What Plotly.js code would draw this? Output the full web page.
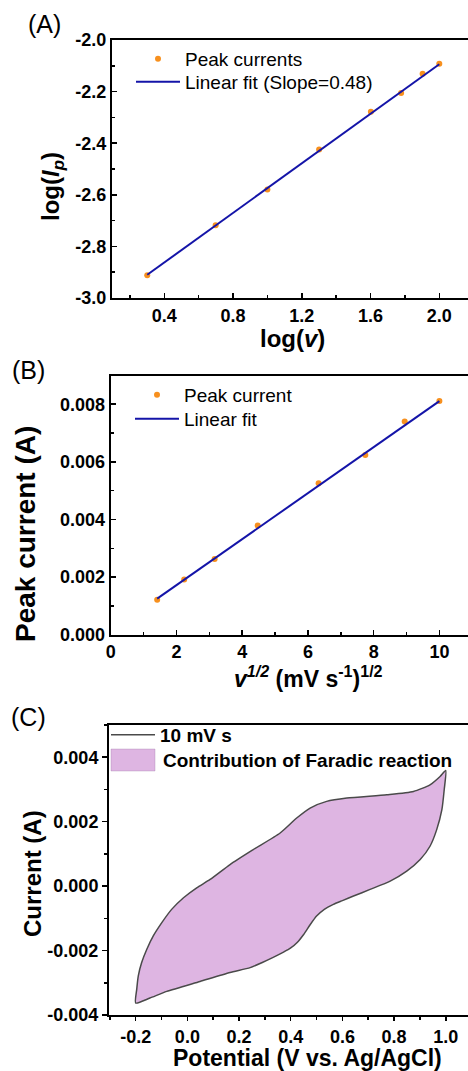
<!DOCTYPE html>
<html>
<head>
<meta charset="utf-8">
<script src="https://cdn.plot.ly/plotly-3.0.1.min.js"></script>
<style>html,body{margin:0;padding:0;background:#fff;}#chart{width:468px;height:1071px;}</style>
</head>
<body>
<div id="chart"></div>
<script>
// ---- Panel A data ----
const logV = [0.301, 0.699, 1.0, 1.301, 1.602, 1.778, 1.903, 2.0];
const logIp = [-2.912, -2.718, -2.579, -2.424, -2.278, -2.205, -2.131, -2.092];
const fitLogV = [0.301, 2.0];
const fitLogIp = [-2.910, -2.094];
const aXTickVals = [0.4, 0.8, 1.2, 1.6, 2.0];
const aXTickText = ['0.4', '0.8', '1.2', '1.6', '2.0'];
const aYTickVals = [-3.0, -2.8, -2.6, -2.4, -2.2, -2.0];
const aYTickText = ['-3.0', '-2.8', '-2.6', '-2.4', '-2.2', '-2.0'];

// ---- Panel B data ----
const sqrtV = [1.414, 2.236, 3.162, 4.472, 6.325, 7.746, 8.944, 10.0];
const peakCurrent = [0.00121, 0.00192, 0.00263, 0.00379, 0.00526, 0.00624, 0.00740, 0.00811];
const fitSqrtV = [1.414, 10.0];
const fitPeakCurrent = [0.00125, 0.00811];
const bXTickVals = [0, 2, 4, 6, 8, 10];
const bXTickText = ['0', '2', '4', '6', '8', '10'];
const bYTickVals = [0, 0.002, 0.004, 0.006, 0.008];
const bYTickText = ['0.000', '0.002', '0.004', '0.006', '0.008'];

// ---- Panel C data (CV loop at 10 mV/s) ----
const cvPotential = [-0.200, -0.196, -0.190, -0.177, -0.157, -0.132, -0.099, -0.061, -0.015, 0.036, 0.088, 0.165, 0.255, 0.359, 0.423, 0.475, 0.539, 0.617, 0.772, 0.875, 0.939, 0.978, 1.000,
  0.994, 0.985, 0.965, 0.939, 0.901, 0.849, 0.785, 0.707, 0.643, 0.600, 0.565, 0.530, 0.500, 0.475, 0.450, 0.425, 0.400, 0.372, 0.330, 0.290, 0.243, 0.165, 0.049, -0.080, -0.145, -0.200];
const cvCurrent = [-0.003629, -0.003196, -0.002783, -0.002371, -0.001959, -0.001546, -0.001134, -0.000722, -0.000361, -0.000052, 0.000206, 0.000670, 0.001134, 0.001649, 0.002113, 0.002423, 0.002629, 0.002732, 0.002835, 0.002938, 0.003144, 0.003402, 0.003588,
  0.002990, 0.002371, 0.001753, 0.001237, 0.000825, 0.000464, 0.000155, -0.000103, -0.000309, -0.000450, -0.000567, -0.000720, -0.000930, -0.001200, -0.001500, -0.001750, -0.001920, -0.002050, -0.002220, -0.002370, -0.002530, -0.002680, -0.002959, -0.003268, -0.003474, -0.003629];
const cXTickVals = [-0.2, 0.0, 0.2, 0.4, 0.6, 0.8, 1.0];
const cXTickText = ['-0.2', '0.0', '0.2', '0.4', '0.6', '0.8', '1.0'];
const cYTickVals = [-0.004, -0.002, 0, 0.002, 0.004];
const cYTickText = ['-0.004', '-0.002', '0.000', '0.002', '0.004'];

const W = 468, H = 1071;
const FONT = 'Liberation Sans, Arial, sans-serif';
const ORANGE = '#f7901e';
const BLUE = '#1414a8';
const FILL = 'rgb(222,181,226)';
const px = v => v / W;
const py = v => 1 - v / H;

const traces = [
  {x: logV, y: logIp, type: 'scatter', mode: 'markers', name: 'Peak currents',
   marker: {color: ORANGE, size: 6}, xaxis: 'x', yaxis: 'y', legend: 'legend'},
  {x: fitLogV, y: fitLogIp, type: 'scatter', mode: 'lines', name: 'Linear fit (Slope=0.48)',
   line: {color: BLUE, width: 2}, xaxis: 'x', yaxis: 'y', legend: 'legend4'},
  {x: sqrtV, y: peakCurrent, type: 'scatter', mode: 'markers', name: 'Peak current',
   marker: {color: ORANGE, size: 6}, xaxis: 'x2', yaxis: 'y2', legend: 'legend2'},
  {x: fitSqrtV, y: fitPeakCurrent, type: 'scatter', mode: 'lines', name: 'Linear fit',
   line: {color: BLUE, width: 2}, xaxis: 'x2', yaxis: 'y2', legend: 'legend5'},
  {x: cvPotential, y: cvCurrent, type: 'scatter', mode: 'lines', name: 'Contribution of Faradic reaction',
   fill: 'toself', fillcolor: FILL, line: {color: 'rgba(0,0,0,0)', width: 0, shape: 'spline', smoothing: 0.6},
   xaxis: 'x3', yaxis: 'y3', showlegend: false},
  {x: cvPotential, y: cvCurrent, type: 'scatter', mode: 'lines', name: '10 mV s',
   line: {color: '#4a4a4a', width: 1.5, shape: 'spline', smoothing: 0.6},
   xaxis: 'x3', yaxis: 'y3', legend: 'legend3'}
];

function axisBase(extra) {
  return Object.assign({
    showgrid: false, zeroline: false, showline: true, linecolor: '#000', linewidth: 2,
    tickmode: 'array', tickcolor: '#000', tickwidth: 1.5,
    tickfont: {family: FONT, size: 18, color: '#000', weight: 'bold'},
    fixedrange: true
  }, extra);
}
function leg(x, y, bold) {
  return {x: px(x), y: py(y), xanchor: 'left', yanchor: 'middle', bgcolor: 'rgba(0,0,0,0)',
    font: {family: FONT, size: 19, color: '#000', weight: bold ? 'bold' : 'normal'}, itemwidth: 44, tracegroupgap: 0};
}
function ann(text, x, y, size, bold, angle, xa) {
  return {text: text, x: px(x), y: py(y), xref: 'paper', yref: 'paper', showarrow: false,
    xanchor: xa || 'center', yanchor: 'middle', textangle: angle || 0,
    font: {family: FONT, size: size, color: '#000', weight: bold ? 'bold' : 'normal'}};
}

const layout = {
  width: W, height: H,
  margin: {l: 0, r: 0, t: 0, b: 0},
  paper_bgcolor: '#fff', plot_bgcolor: 'rgba(0,0,0,0)',
  showlegend: true,
  xaxis: axisBase({domain: [px(112), 1], range: [0.096, 2.167], anchor: 'y', mirror: true,
    tickvals: aXTickVals, ticktext: aXTickText, ticks: 'inside', ticklen: 5,
    minor: {ticks: 'inside', ticklen: 3, dtick: 0.2, tick0: 0, tickcolor: '#000', tickwidth: 1.5}}),
  yaxis: axisBase({domain: [py(298), py(40)], range: [-3.0, -2.0], anchor: 'x',
    tickvals: aYTickVals, ticktext: aYTickText, ticks: 'inside', ticklen: 5,
    minor: {ticks: 'inside', ticklen: 3, dtick: 0.1, tick0: 0, tickcolor: '#000', tickwidth: 1.5}}),
  xaxis2: axisBase({domain: [px(110.7), 1], range: [0, 10.87], anchor: 'y2', mirror: true,
    tickvals: bXTickVals, ticktext: bXTickText, ticks: 'inside', ticklen: 5,
    minor: {ticks: 'inside', ticklen: 3, dtick: 1, tick0: 0, tickcolor: '#000', tickwidth: 1.5}}),
  yaxis2: axisBase({domain: [py(634.7), py(376)], range: [0, 0.00898], anchor: 'x2',
    tickvals: bYTickVals, ticktext: bYTickText, ticks: 'inside', ticklen: 5,
    minor: {ticks: 'inside', ticklen: 3, dtick: 0.001, tick0: 0, tickcolor: '#000', tickwidth: 1.5}}),
  xaxis3: axisBase({domain: [px(109), 1], range: [-0.3034, 1.0861], anchor: 'y3', mirror: true,
    tickvals: cXTickVals, ticktext: cXTickText, ticks: 'outside', ticklen: 4,
    minor: {ticks: 'outside', ticklen: 3, dtick: 0.1, tick0: 0, tickcolor: '#000', tickwidth: 1.5}}),
  yaxis3: axisBase({domain: [py(1015), py(725)], range: [-0.004, 0.0050], anchor: 'x3',
    tickvals: cYTickVals, ticktext: cYTickText, ticks: 'outside', ticklen: 5,
    minor: {ticks: 'outside', ticklen: 3, dtick: 0.001, tick0: 0, tickcolor: '#000', tickwidth: 1.5}}),
  legend: leg(131, 59, false),
  legend4: leg(131, 82, false),
  legend2: leg(130, 395, false),
  legend5: leg(130, 419, false),
  legend3: leg(106, 735, true),
  shapes: [
    {type: 'rect', xref: 'paper', yref: 'paper', x0: px(111), x1: px(155), y0: py(771), y1: py(749),
     fillcolor: FILL, line: {color: 'rgba(150,110,160,0.6)', width: 0.5}}
  ],
  annotations: [
    ann('(A)', 44, 24, 25, false),
    ann('(B)', 28, 370, 25, false),
    ann('(C)', 28, 717, 25, false),
    ann('log(<i>I</i><sub><i>p</i></sub>)', 52, 187, 24, true, -90),
    ann('log(<i>v</i>)', 292, 338, 24, true),
    ann('Peak current (A)', 25, 534, 28, true, -90),
    ann('<i>v</i><sup><i>1/2</i></sup> (mV s<sup>-1</sup>)<sup>1/2</sup>', 308, 677, 23, true),
    ann('Current (A)', 32, 874, 24, true, -90),
    ann('Potential (V vs. Ag/AgCl)', 307, 1058, 23, true),
    ann('Contribution of Faradic reaction', 161, 760, 19, true, 0, 'left')
  ]
};

Plotly.newPlot('chart', traces, layout, {staticPlot: true, displayModeBar: false});
</script>
</body>
</html>
